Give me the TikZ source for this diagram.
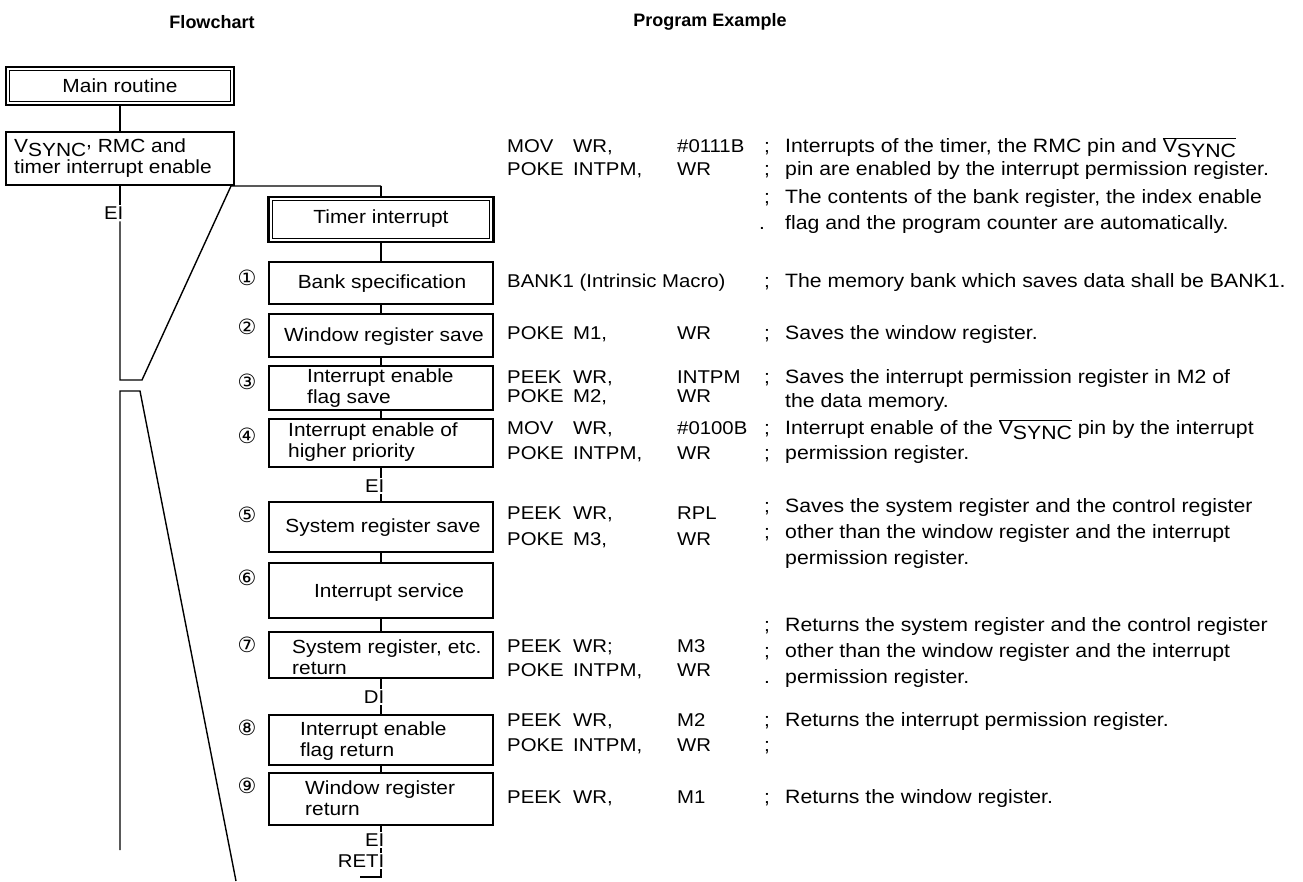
\documentclass[tikz,border=0pt]{standalone}
\usepackage{fontspec}
\setmainfont[FakeStretch=1.1]{Liberation Sans}
\newfontfamily\hdfont{Liberation Sans}
\newfontfamily\circfont{DejaVu Sans}
\newcommand{\vsyncbar}{$\overline{\hbox{V\raisebox{-0.45ex}{SYNC}}}$}
\newcommand{\prgrow}[5]{%
  \node[pgt] (#1a) at (507,#2) {#3};
  \node[pgt] (#1b) at (573,#2) {#4};
  \node[pgt] (#1c) at (677,#2) {#5};}
\begin{document}
\begin{tikzpicture}[x=1pt,y=-1pt,
  mybox/.style={draw, line width=2.7pt, inner sep=0pt},
  myconn/.style={line width=1.4pt},
  pgt/.style={inner sep=0pt, text height=13.5pt, text depth=4pt, font=\fontsize{18.5}{21}\selectfont, anchor=west},
  cmt/.style={inner sep=0pt, text height=13.5pt, text depth=4pt, font=\fontsize{19.3}{22}\selectfont, anchor=west},
  semit/.style={inner sep=0pt, text height=13.5pt, text depth=4pt, font=\fontsize{19}{22}\selectfont},
  btx/.style={inner sep=0pt, align=left, font=\fontsize{19}{20.5}\selectfont},
  numt/.style={inner sep=0pt, font=\circfont\fontsize{21}{21}\selectfont},
  labt/.style={inner xsep=1pt, inner ysep=1.5pt, text height=13.5pt, text depth=0pt, font=\fontsize{18.5}{18.5}\selectfont, anchor=east},
  hdt/.style={inner sep=0pt, font=\hdfont\bfseries\fontsize{18}{18}\selectfont}
]
\fill[white] (0,0) rectangle (1303,881);
\useasboundingbox (0,0) rectangle (1303,881);

% headers
\node[hdt] (h1) at (212,22) {Flowchart};
\node[hdt] (h2) at (710,22) {Program Example};

% ---------------- left flowchart ----------------
\node[mybox, minimum width=228pt, minimum height=38pt] (main) at (120,86) {};
\draw[line width=0.9pt] ([shift={(5pt,-5pt)}]main.north west) rectangle ([shift={(-5pt,5pt)}]main.south east);
\node[btx] (maint) at (120,86) {Main routine};

\node[mybox, minimum width=228pt, minimum height=53pt] (vs) at (120,158.5) {};
\node[btx, anchor=west, font=\fontsize{19}{21.5}\selectfont] (vst) at (14,158)
  {V\raisebox{-0.45ex}{SYNC}\raisebox{0.5ex}{,} RMC and\\timer interrupt enable};

\node[labt] (ei1) at (124.5,213) {EI};

\coordinate (k1) at (120,380);
\coordinate (k2) at (142,380);
\coordinate (k3) at (231,186);
\coordinate (k4) at (381,186);
\coordinate (d1) at (120,850);
\coordinate (d2) at (120,391);
\coordinate (d3) at (140,391);
\coordinate (d4) at (236,881);

\draw[myconn] (main.south) -- (vs.north);
\draw[myconn] (vs.south) -- (vs.south |- ei1.north);
\draw[myconn] (vs.south |- ei1.south) -- (k1) -- (k2) -- (k3) -- (k4);
\draw[myconn] (d1) -- (d2) -- (d3) -- (d4);

% ---------------- right flowchart ----------------
\node[mybox, minimum width=225pt, minimum height=45pt] (tim) at (381,219.5) {};
\draw[line width=0.9pt] ([shift={(5pt,-5pt)}]tim.north west) rectangle ([shift={(-5pt,5pt)}]tim.south east);
\node[btx] (timt) at (381,219) {Timer interrupt};
\draw[myconn] (k4) -- (tim.north);

\node[mybox, minimum width=224pt, minimum height=42pt] (b1) at (381,283) {};
\node[mybox, minimum width=224pt, minimum height=43pt] (b2) at (381,335.5) {};
\node[mybox, minimum width=224pt, minimum height=44pt] (b3) at (381,388) {};
\node[mybox, minimum width=224pt, minimum height=48pt] (b4) at (381,443) {};
\node[mybox, minimum width=224pt, minimum height=50pt] (b5) at (381,527) {};
\node[mybox, minimum width=224pt, minimum height=55pt] (b6) at (381,590.5) {};
\node[mybox, minimum width=224pt, minimum height=46pt] (b7) at (381,655) {};
\node[mybox, minimum width=224pt, minimum height=50pt] (b8) at (381,740) {};
\node[mybox, minimum width=224pt, minimum height=52pt] (b9) at (381,799) {};

\node[btx] (t1) at (382,284) {Bank specification};
\node[btx] (t2) at (384,337) {Window register save};
\node[btx, anchor=west] (t3) at (307,388) {Interrupt enable\\flag save};
\node[btx, anchor=west] (t4) at (288,442) {Interrupt enable of\\higher priority};
\node[btx] (t5) at (383,528) {System register save};
\node[btx] (t6) at (389,593) {Interrupt service};
\node[btx, anchor=west] (t7) at (292,657) {System register, etc.\\return};
\node[btx, anchor=west] (t8) at (300,741) {Interrupt enable\\flag return};
\node[btx, anchor=west] (t9) at (305,798) {Window register\\return};

\node[numt] (n1) at (247,278) {①};
\node[numt] (n2) at (247,327) {②};
\node[numt] (n3) at (247,382) {③};
\node[numt] (n4) at (247,436) {④};
\node[numt] (n5) at (247,515) {⑤};
\node[numt] (n6) at (247,578) {⑥};
\node[numt] (n7) at (247,645) {⑦};
\node[numt] (n8) at (247,728) {⑧};
\node[numt] (n9) at (247,786) {⑨};

\node[labt] (ei2) at (385.5,486) {EI};
\node[labt] (di) at (385.5,697) {DI};
\node[labt] (ei3) at (385.5,840) {EI};
\node[labt] (reti) at (385.5,861) {RETI};
\coordinate (e1) at (381,877);
\coordinate (e2) at (360,877);

\draw[myconn] (tim.south) -- (b1.north);
\draw[myconn] (b1.south) -- (b2.north);
\draw[myconn] (b2.south) -- (b3.north);
\draw[myconn] (b3.south) -- (b4.north);
\draw[myconn] (b4.south) -- (b4.south |- ei2.north);
\draw[myconn] (b5.north |- ei2.south) -- (b5.north);
\draw[myconn] (b5.south) -- (b6.north);
\draw[myconn] (b6.south) -- (b7.north);
\draw[myconn] (b7.south) -- (b7.south |- di.north);
\draw[myconn] (b8.north |- di.south) -- (b8.north);
\draw[myconn] (b8.south) -- (b9.north);
\draw[myconn] (b9.south) -- (b9.south |- ei3.north);
\draw[myconn] (b9.south |- ei3.south) -- (b9.south |- reti.north);
\draw[myconn] (b9.south |- reti.south) -- (e1) -- (e2);

% ---------------- program example ----------------
\prgrow{r1}{148}{MOV}{WR,}{\#0111B}
\node[semit] (s1) at (767,148) {;};
\node[cmt] (c1) at (785,148) {Interrupts of the timer, the RMC pin and \vsyncbar};
\prgrow{r2}{171}{POKE}{INTPM,}{WR}
\node[semit] (s2) at (767,171) {;};
\node[cmt] (c2) at (785,171) {pin are enabled by the interrupt permission register.};
\node[semit] (s3) at (767,199) {;};
\node[cmt] (c3) at (785,199) {The contents of the bank register, the index enable};
\node[semit] (s4) at (762,225) {.};
\node[cmt] (c4) at (785,225) {flag and the program counter are automatically.};

\node[pgt] (r5a) at (507,283) {BANK1 (Intrinsic Macro)};
\node[semit] (s5) at (767,283) {;};
\node[cmt] (c5) at (785,283) {The memory bank which saves data shall be BANK1.};

\prgrow{r6}{335}{POKE}{M1,}{WR}
\node[semit] (s6) at (767,335) {;};
\node[cmt] (c6) at (785,335) {Saves the window register.};

\prgrow{r7}{379}{PEEK}{WR,}{INTPM}
\node[semit] (s7) at (767,379) {;};
\node[cmt] (c7) at (785,379) {Saves the interrupt permission register in M2 of};
\prgrow{r8}{398}{POKE}{M2,}{WR}
\node[cmt] (c8) at (785,403) {the data memory.};

\prgrow{r9}{430}{MOV}{WR,}{\#0100B}
\node[semit] (s9) at (767,430) {;};
\node[cmt] (c9) at (785,430) {Interrupt enable of the \vsyncbar\ pin by the interrupt};
\prgrow{r10}{455}{POKE}{INTPM,}{WR}
\node[semit] (s10) at (767,455) {;};
\node[cmt] (c10) at (785,455) {permission register.};

\prgrow{r11}{515}{PEEK}{WR,}{RPL}
\node[semit] (s11) at (767,508) {;};
\node[cmt] (c11) at (785,508) {Saves the system register and the control register};
\prgrow{r12}{541}{POKE}{M3,}{WR}
\node[semit] (s12) at (767,534) {;};
\node[cmt] (c12) at (785,534) {other than the window register and the interrupt};
\node[cmt] (c13) at (785,560) {permission register.};

\node[semit] (s14) at (767,627) {;};
\node[cmt] (c14) at (785,627) {Returns the system register and the control register};
\prgrow{r15}{648}{PEEK}{WR;}{M3}
\node[semit] (s16) at (767,653) {;};
\node[cmt] (c16) at (785,653) {other than the window register and the interrupt};
\prgrow{r17}{672}{POKE}{INTPM,}{WR}
\node[semit] (s18) at (767,679) {.};
\node[cmt] (c18) at (785,679) {permission register.};

\prgrow{r19}{722}{PEEK}{WR,}{M2}
\node[semit] (s19) at (767,722) {;};
\node[cmt] (c19) at (785,722) {Returns the interrupt permission register.};
\prgrow{r20}{747}{POKE}{INTPM,}{WR}
\node[semit] (s20) at (767,747) {;};

\prgrow{r21}{799}{PEEK}{WR,}{M1}
\node[semit] (s21) at (767,799) {;};
\node[cmt] (c21) at (785,799) {Returns the window register.};
\end{tikzpicture}
\end{document}
